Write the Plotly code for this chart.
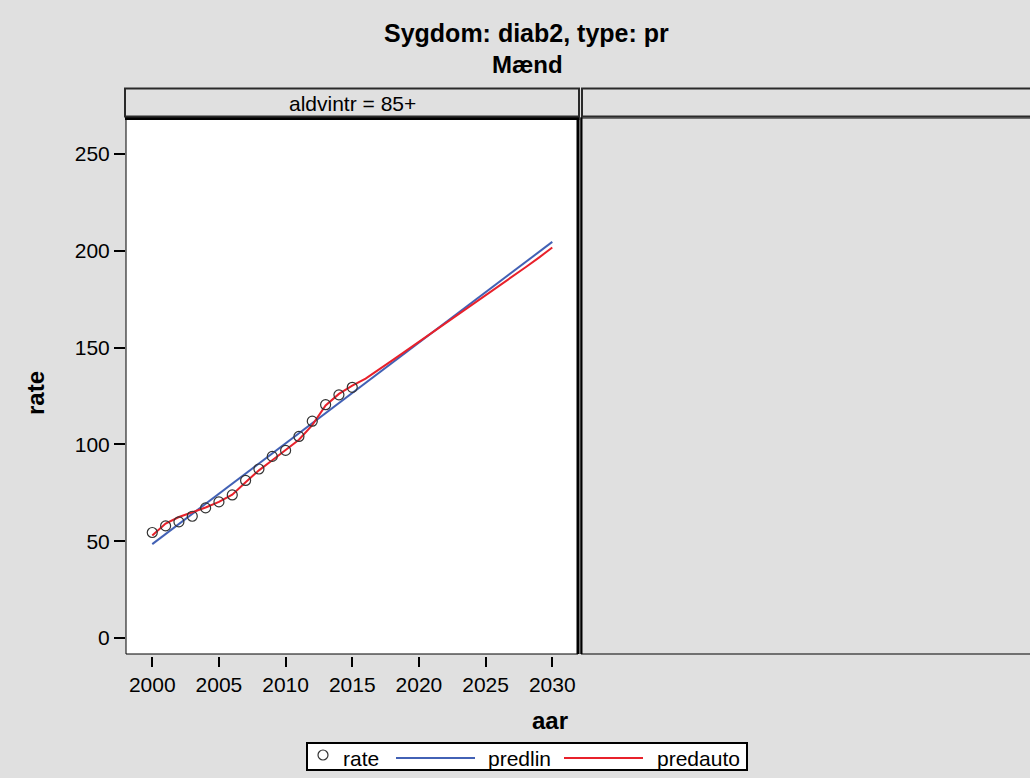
import plotly.graph_objects as go

# ---- data -------------------------------------------------------------
years_obs = list(range(2000, 2016))
rate = [54.5, 57.9, 60.0, 62.9, 67.2, 70.3, 73.9, 81.4, 87.3, 93.8,
        96.9, 104.1, 112.0, 120.5, 125.6, 129.5]

years_lin = [2000, 2005, 2010, 2015, 2020, 2025, 2030]
predlin = [48.5, 74.5, 100.5, 126.5, 152.5, 178.5, 204.6]

years_auto = list(range(2000, 2031))
predauto = [52.9, 59.1, 62.5, 64.8, 67.4, 70.3, 74.0, 80.5, 86.6, 91.8,
            96.9, 102.4, 110.0, 120.1, 126.1, 130.4, 134.0, 138.5, 143.4, 148.2,
            153.0, 157.8, 162.6, 167.3, 172.0, 176.7, 181.7, 186.3, 191.5, 196.5,
            201.7]

x_ticks = [2000, 2005, 2010, 2015, 2020, 2025, 2030]
y_ticks = [0, 50, 100, 150, 200, 250]

title_line1 = "Sygdom: diab2, type: pr"
title_line2 = "Mænd"
panel_label = "aldvintr = 85+"
legend_names = ["rate", "predlin", "predauto"]

# ---- styling ----------------------------------------------------------
W, H = 1030, 778
BG = "#E0E0E0"
BLUE = "#4261B5"
RED = "#E8212B"
FONT = "Liberation Sans, Arial, sans-serif"


def px(x):
    return x / W


def py(y):
    return 1 - y / H


fig = go.Figure()

fig.add_trace(go.Scatter(
    x=years_lin, y=predlin, mode="lines", name=legend_names[1],
    line=dict(color=BLUE, width=2), showlegend=False))
fig.add_trace(go.Scatter(
    x=years_auto, y=predauto, mode="lines", name=legend_names[2],
    line=dict(color=RED, width=2), showlegend=False))
fig.add_trace(go.Scatter(
    x=years_obs, y=rate, mode="markers", name=legend_names[0],
    marker=dict(symbol="circle-open", size=10, color="#333333",
                line=dict(width=1.2, color="#333333")),
    showlegend=False))

shapes = []
# white panel border
shapes.append(dict(type="rect", xref="paper", yref="paper",
                   x0=px(126), x1=px(578), y0=py(654), y1=py(118),
                   line=dict(color="black", width=1), layer="above"))
shapes.append(dict(type="line", xref="paper", yref="paper",
                   x0=px(125), x1=px(579.5), y0=py(118.5), y1=py(118.5),
                   line=dict(color="black", width=3), layer="above"))
shapes.append(dict(type="line", xref="paper", yref="paper",
                   x0=px(578), x1=px(578), y0=py(654), y1=py(117),
                   line=dict(color="black", width=3), layer="above"))
# empty right panel
shapes.append(dict(type="rect", xref="paper", yref="paper",
                   x0=px(581), x1=px(1040), y0=py(654), y1=py(118),
                   line=dict(color="black", width=1), layer="above"))
shapes.append(dict(type="line", xref="paper", yref="paper",
                   x0=px(581.5), x1=px(581.5), y0=py(654), y1=py(117),
                   line=dict(color="black", width=2), layer="above"))
# panel headers
shapes.append(dict(type="rect", xref="paper", yref="paper",
                   x0=px(125), x1=px(579), y0=py(116.5), y1=py(88.5),
                   fillcolor=BG, line=dict(color="#2a2a2a", width=2), layer="above"))
shapes.append(dict(type="rect", xref="paper", yref="paper",
                   x0=px(582), x1=px(1040), y0=py(116.5), y1=py(88.5),
                   fillcolor=BG, line=dict(color="#2a2a2a", width=2), layer="above"))
# legend box and keys
shapes.append(dict(type="rect", xref="paper", yref="paper",
                   x0=px(307), x1=px(747), y0=py(770), y1=py(743),
                   fillcolor="white", line=dict(color="black", width=2), layer="above"))
shapes.append(dict(type="circle", xref="paper", yref="paper",
                   x0=px(318), x1=px(328), y0=py(760), y1=py(750),
                   line=dict(color="#333333", width=1.2), layer="above"))
shapes.append(dict(type="line", xref="paper", yref="paper",
                   x0=px(396), x1=px(475), y0=py(758), y1=py(758),
                   line=dict(color=BLUE, width=2), layer="above"))
shapes.append(dict(type="line", xref="paper", yref="paper",
                   x0=px(564), x1=px(643), y0=py(758), y1=py(758),
                   line=dict(color=RED, width=2), layer="above"))

ann = []


def text(x, y, s, size, bold=False, xanchor="center", angle=0):
    ann.append(dict(xref="paper", yref="paper", x=px(x), y=py(y),
                    text=f"<b>{s}</b>" if bold else s, showarrow=False,
                    xanchor=xanchor, yanchor="middle", textangle=angle,
                    font=dict(family=FONT, size=size, color="black")))


text(526, 33, title_line1, 25, bold=True)
text(527, 64, title_line2, 24, bold=True)
text(352, 103, panel_label, 21)
text(35, 393, "rate", 24, bold=True, angle=-90)
text(550, 720, "aar", 24, bold=True)
text(341, 758, legend_names[0], 21, xanchor="left")
text(486, 758, legend_names[1], 21, xanchor="left")
text(655, 758, legend_names[2], 21, xanchor="left")

fig.update_layout(
    width=W, height=H,
    margin=dict(l=0, r=0, t=0, b=0),
    paper_bgcolor=BG, plot_bgcolor="white",
    font=dict(family=FONT, size=21, color="black"),
    shapes=shapes, annotations=ann,
    xaxis=dict(domain=[px(126), px(578)], range=[1998.03, 2031.93],
               tickvals=x_ticks, ticks="outside", ticklen=10, tickwidth=1.5,
               tickcolor="black", showgrid=False, zeroline=False, showline=False,
               anchor="free", position=py(656), automargin=False,
               tickfont=dict(size=21)),
    yaxis=dict(domain=[py(654), py(118)], range=[-8.26, 268.6],
               tickvals=y_ticks, ticks="outside", ticklen=11, tickwidth=1.5,
               tickcolor="black", showgrid=False, zeroline=False, showline=False,
               automargin=False, tickfont=dict(size=21)),
)

fig.write_html("out.html")
